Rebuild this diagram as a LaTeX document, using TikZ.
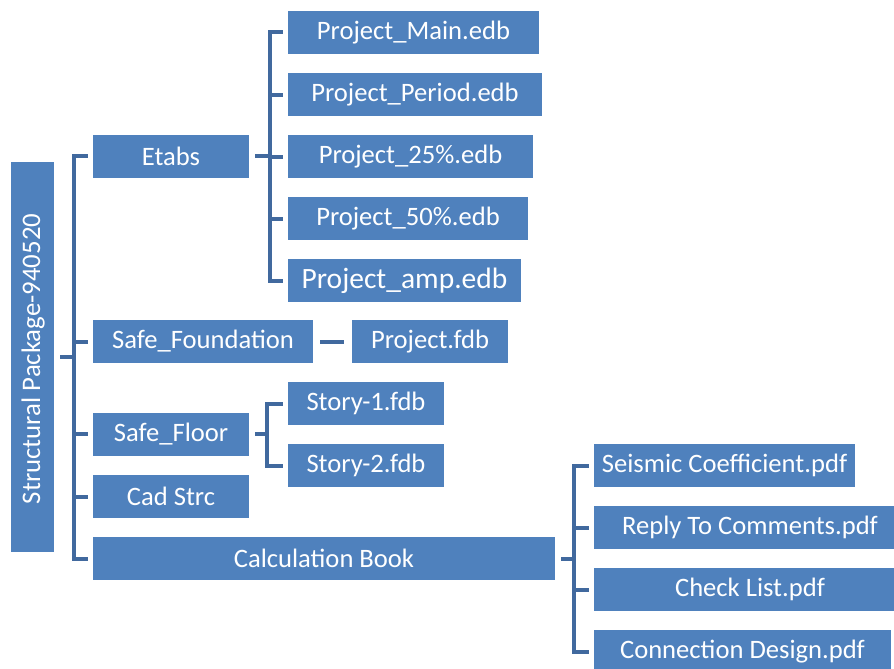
\documentclass[tikz,border=0pt]{standalone}
\usepackage{fontspec}
\setmainfont{Carlito}
\definecolor{boxblue}{HTML}{4F81BD}
\definecolor{lineblue}{HTML}{41699E}
\begin{document}
\begin{tikzpicture}[x=1pt,y=-1pt,
  box/.style={fill=boxblue, draw=none, text=white, minimum height=43pt, inner sep=0pt,
    font=\fontsize{26.6}{30}\selectfont},
  conn/.style={draw=lineblue, line width=4pt}]
\useasboundingbox (0,0) rectangle (894,669);
\clip (0,0) rectangle (894,669);
% root
\node[box, minimum width=43pt, minimum height=390pt] (root) at (32.5,357) {};
\node[text=white, rotate=90, inner sep=0pt, font=\fontsize{26.8}{30}\selectfont] (roottext) at (33,359) {Structural Package-940520};
% level 1
\node[box, minimum width=156pt] (etabs) at (171,156) {Etabs};
\node[box, minimum width=220pt] (sfound) at (203,341.5) {Safe\_Foundation};
\node[box, minimum width=156pt] (sfloor) at (171,434) {Safe\_Floor};
\node[box, minimum width=156pt] (cad) at (171,496.5) {Cad Strc};
\node[box, minimum width=462pt] (calc) at (324,558.5) {Calculation Book};
% etabs children
\node[box, minimum width=251pt] (pmain) at (413.5,32.5) {Project\_Main.edb};
\node[box, minimum width=254pt] (pper) at (415,94.5) {Project\_Period.edb};
\node[box, minimum width=245pt] (p25) at (410.5,156.5) {Project\_25\%.edb};
\node[box, minimum width=240pt] (p50) at (408,218.5) {Project\_50\%.edb};
\node[box, minimum width=233pt, font=\fontsize{29.5}{33}\selectfont] (pamp) at (404.5,280.5) {Project\_amp.edb};
% foundation child
\node[box, minimum width=156pt] (pfdb) at (430,341.5) {Project.fdb};
% floor children
\node[box, minimum width=156pt] (s1) at (366,403.5) {Story-1.fdb};
\node[box, minimum width=156pt] (s2) at (366,465.5) {Story-2.fdb};
% calc children
\node[box, minimum width=261pt] (seis) at (724.5,465.5) {Seismic Coefficient.pdf};
\node[box, minimum width=312pt] (reply) at (750,527.5) {Reply To Comments.pdf};
\node[box, minimum width=312pt] (check) at (750,589.5) {Check List.pdf};
\node[box, minimum width=297pt] (conn) at (742.5,651.5) {Connection Design.pdf};
% root connectors
\draw[conn] ([xshift=6pt]root.east) -- ++(14,0);
\draw[conn] ([xshift=-5pt]etabs.west) -- ++(-14,0) |- ([xshift=-5pt]calc.west);
\draw[conn] ([xshift=-5pt]sfound.west) -- ++(-14,0);
\draw[conn] ([xshift=-5pt]sfloor.west) -- ++(-14,0);
\draw[conn] ([xshift=-5pt]cad.west) -- ++(-14,0);
% etabs connectors
\draw[conn] ([xshift=6pt]etabs.east) -- ++(16,0);
\draw[conn] ([xshift=-5pt]pmain.west) -- ++(-13,0) |- ([xshift=-5pt]pamp.west);
\draw[conn] ([xshift=-5pt]pper.west) -- ++(-13,0);
\draw[conn] ([xshift=-5pt]p25.west) -- ++(-13,0);
\draw[conn] ([xshift=-5pt]p50.west) -- ++(-13,0);
% foundation connector
\draw[conn] ([xshift=7pt]sfound.east) -- ([xshift=-8pt]pfdb.west);
% floor connectors
\draw[conn] ([xshift=6pt]sfloor.east) -- ++(14,0);
\draw[conn] ([xshift=-5pt]s1.west) -- ++(-16,0) |- ([xshift=-5pt]s2.west);
% calc connectors
\draw[conn] ([xshift=6pt]calc.east) -- ++(14,0);
\draw[conn] ([xshift=-5pt]seis.west) -- ++(-15,0) |- ([xshift=-5pt]conn.west);
\draw[conn] ([xshift=-5pt]reply.west) -- ++(-15,0);
\draw[conn] ([xshift=-5pt]check.west) -- ++(-15,0);
\end{tikzpicture}
\end{document}
